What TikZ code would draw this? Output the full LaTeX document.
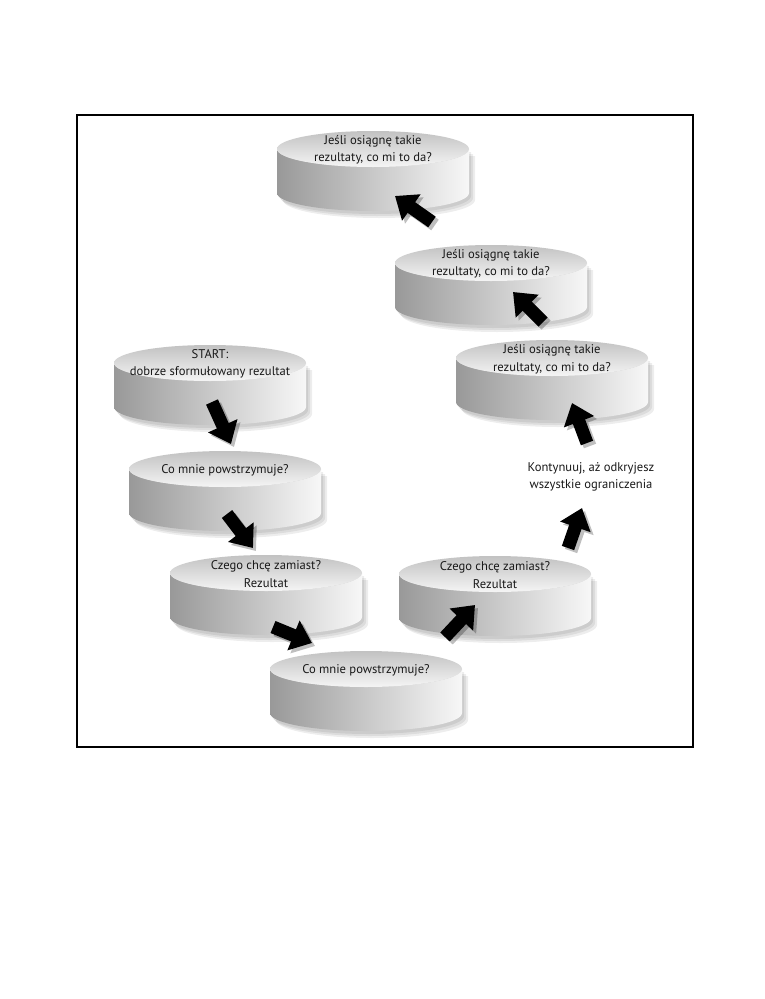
\documentclass[tikz,border=0pt]{standalone}
\usepackage{fontspec}
\setmainfont{PT Sans}
\usetikzlibrary{arrows.meta,calc}
\tikzset{
  disctext/.style={align=center, text=black!90, inner sep=0pt,
    font=\fontsize{12.6}{17.5}\selectfont},
  sideshade/.style={left color=black!40, right color=black!3},
  topshade/.style={top color=black!24, bottom color=black!4},
  blockarrow/.style={line width=13pt, black,
    -{Triangle[length=20pt,width=31pt]}},
  arrowshadow/.style={line width=13pt, black,
    -{Triangle[length=20pt,width=31pt]}},
  framebox/.style={line width=1.2pt, black}
}
\newcommand\Disc[4]{%
  \begin{scope}[opacity=.07]
    \foreach \dx/\dy in {2/3,4/5,6/7}{
      \fill ({#2-96+\dx},{#3+\dy}) -- ++(0,44)
        arc[start angle=180,end angle=0,x radius=96,y radius=18]
        -- ++(0,-44) -- cycle;
    }
  \end{scope}
  \path[sideshade] ({#2-96},#3) -- ++(0,44)
    arc[start angle=180,end angle=0,x radius=96,y radius=18]
    -- ++(0,-44)
    arc[start angle=0,end angle=180,x radius=96,y radius=18] -- cycle;
  \path[topshade] (#2,#3) ellipse[x radius=96,y radius=18];
  \node[disctext] (#1) at (#2,{#3+1}) {#4};
}
\newcommand\BlockArrow[2]{%
  \begin{scope}[transparency group, opacity=.25]
    \draw[arrowshadow] ($(#1)+(3,3)$) -- ($(#2)+(3,3)$);
  \end{scope}
  \draw[blockarrow] (#1) -- (#2);
}
\begin{document}
\begin{tikzpicture}[x=1pt,y=-1pt]
\useasboundingbox (0,0) rectangle (765,999);
\fill[white] (0,0) rectangle (765,999);
\draw[framebox] (77,115) rectangle (693,747);

\Disc{d1}{373}{149}{Jeśli osiągnę takie\\rezultaty, co mi to da?}
\Disc{d2}{491}{263}{Jeśli osiągnę takie\\rezultaty, co mi to da?}
\Disc{d3}{552}{358}{Jeśli osiągnę takie\\rezultaty, co mi to da?}
\Disc{start}{210}{363}{START:\\dobrze sformułowany rezultat}
\Disc{co1}{225}{469}{Co mnie powstrzymuje?}
\Disc{cz1}{266}{573}{Czego chcę zamiast?\\Rezultat}
\Disc{co2}{366}{669}{Co mnie powstrzymuje?}
\Disc{cz2}{495}{574}{Czego chcę zamiast?\\Rezultat}

\node[disctext] (cont) at (591,477) {Kontynuuj, aż odkryjesz\\wszystkie ograniczenia};

\coordinate (t1) at (432,222); \coordinate (h1) at (395,196);
\coordinate (t2) at (543,322); \coordinate (h2) at (513,292);
\coordinate (t3) at (587,443); \coordinate (h3) at (572,403);
\coordinate (t4) at (212,402); \coordinate (h4) at (231,444);
\coordinate (t5) at (227,514); \coordinate (h5) at (253,548);
\coordinate (t6) at (273,627); \coordinate (h6) at (312,643);
\coordinate (t7) at (445,637); \coordinate (h7) at (475,605);
\coordinate (t8) at (568,548); \coordinate (h8) at (582,508);

\BlockArrow{t1}{h1}
\BlockArrow{t2}{h2}
\BlockArrow{t3}{h3}
\BlockArrow{t4}{h4}
\BlockArrow{t5}{h5}
\BlockArrow{t6}{h6}
\BlockArrow{t7}{h7}
\BlockArrow{t8}{h8}
\end{tikzpicture}
\end{document}
